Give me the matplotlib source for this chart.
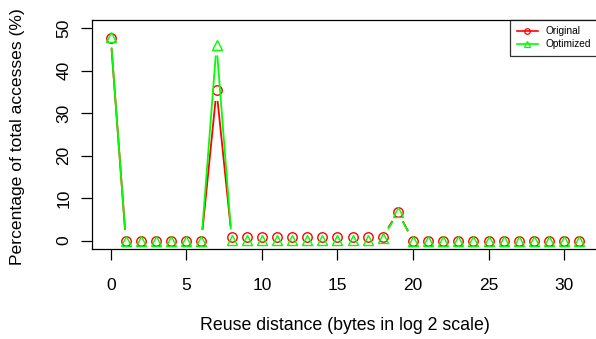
import numpy as np
import matplotlib
matplotlib.use("Agg")
import matplotlib.pyplot as plt
from matplotlib.lines import Line2D

plt.rcParams['font.family'] = ['Liberation Sans', 'DejaVu Sans']

# reuse distance bins (log2 bytes)
distance = list(range(32))
original = [47.7, 0, 0, 0, 0, 0, 0, 35.3, 0.9, 0.9, 0.9, 0.9, 0.9, 0.9, 0.9, 0.9,
            0.9, 0.9, 0.9, 6.7, 0, 0, 0, 0, 0, 0, 0, 0, 0, 0, 0, 0]
optimized = [47.9, 0, 0, 0, 0, 0, 0, 46.0, 0.2, 0.2, 0.2, 0.2, 0.2, 0.2, 0.2, 0.2,
             0.2, 0.2, 0.6, 6.6, 0, 0, 0, 0, 0, 0, 0, 0, 0, 0, 0, 0]

W, H = 596, 339
fig = plt.figure(figsize=(W / 100, H / 100), dpi=100)
ax = fig.add_axes([92 / W, (H - 249) / H, (598 - 92) / W, (249 - 19.5) / H])
ax.set_xlim(-1.24, 32.24)
ax.set_ylim(-2, 52)


def gapped_line(x, y, color, gap=10.5):
    # R type="b": segments stop short of the points
    pts = ax.transData.transform(np.column_stack([x, y]))
    inv = ax.transData.inverted()
    for p0, p1 in zip(pts[:-1], pts[1:]):
        d = np.hypot(*(p1 - p0))
        if d <= 2 * gap:
            continue
        u = (p1 - p0) / d
        seg = inv.transform(np.array([p0 + u * gap, p1 - u * gap]))
        ax.plot(seg[:, 0], seg[:, 1], color=color, lw=1.3, solid_capstyle='butt')


gapped_line(distance, original, '#ff0000')
ax.plot(distance, original, ls='none', marker='o', ms=6.8, mfc='none',
        mec='#ff0000', mew=1.0)
gapped_line(distance, optimized, '#00ff00')
ax.plot(distance, optimized, ls='none', marker='^', ms=7.5, mfc='none',
        mec='#00ff00', mew=1.0)

ax.set_xticks(range(0, 31, 5))
ax.set_yticks(range(0, 51, 10))
ax.tick_params(axis='both', direction='out', length=8, width=0.9, labelsize=12.5)
ax.tick_params(axis='x', pad=13)
ax.tick_params(axis='y', pad=7)
for lab in ax.get_yticklabels():
    lab.set_rotation(90)
    lab.set_va('center')
for s in ax.spines.values():
    s.set_linewidth(0.9)

ax.set_xlabel('Reuse distance (bytes in log 2 scale)', fontsize=12.8, va='center')
ax.set_ylabel('Percentage of total accesses (%)', fontsize=12.6, va='center')
ax.xaxis.set_label_coords((345 - 92) / 506, (249 - 325) / 229.5)
ax.yaxis.set_label_coords((18 - 92) / 506, (249 - 137) / 229.5)

handles = [Line2D([], [], color='#ff0000', lw=1.2, marker='o', ms=4, mfc='none', mew=0.9),
           Line2D([], [], color='#00ff00', lw=1.2, marker='^', ms=4.3, mfc='none', mew=0.9)]
leg = ax.legend(handles, ['Original', 'Optimized'], loc='upper right',
                bbox_to_anchor=(1.0, 1.0), fontsize=7.3, frameon=True,
                fancybox=False, handlelength=2.1, handletextpad=0.8,
                borderpad=0.65, labelspacing=0.3, borderaxespad=0)
leg.get_frame().set_edgecolor('black')
leg.get_frame().set_linewidth(0.9)

fig.savefig('out.png', dpi=100)
